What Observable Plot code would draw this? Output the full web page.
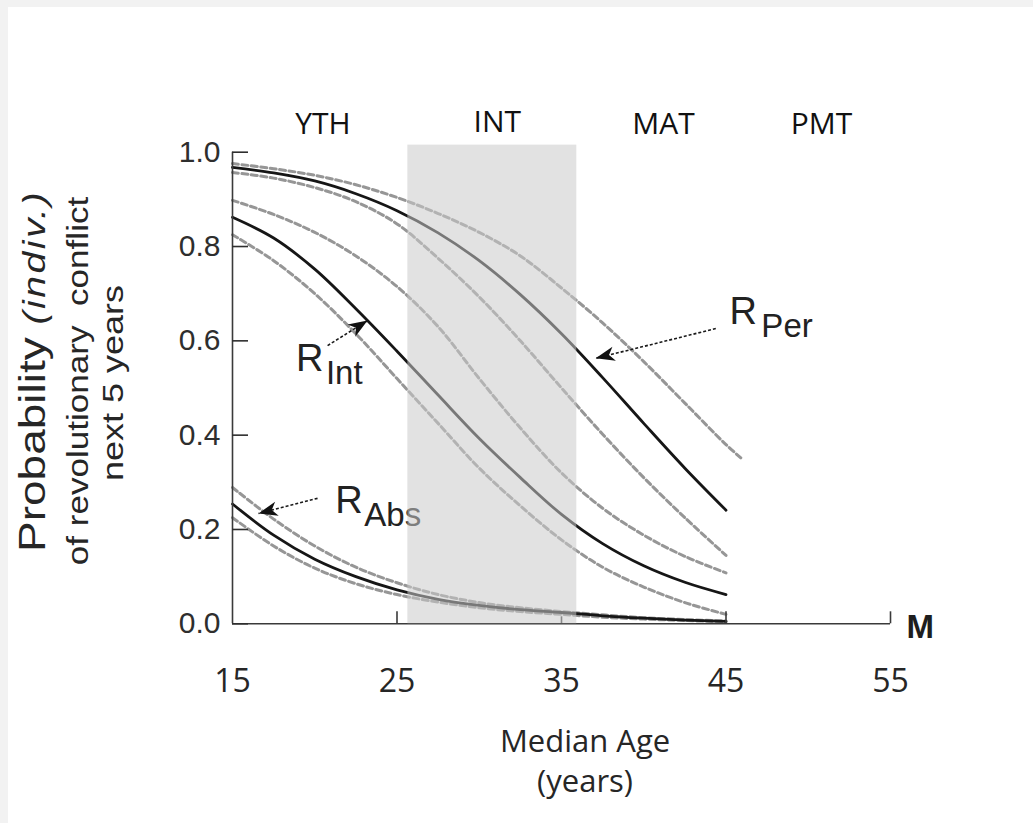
<!DOCTYPE html>
<html>
<head>
<meta charset="utf-8">
<script src="https://cdn.jsdelivr.net/npm/d3@7"></script>
<script src="https://cdn.jsdelivr.net/npm/@observablehq/plot@0.6"></script>
<style>
  html, body { margin: 0; padding: 0; background: #f2f2f2; }
  #panel { position: absolute; left: 8px; top: 7px; width: 1025px; height: 816px; background: #fff; }
  #panel svg { overflow: visible; }
</style>
</head>
<body>
<div id="panel"></div>
<script>
// Median age of the population (years)
const ages = [15, 17.5, 20, 22.5, 25, 27.5, 30, 32.5, 35, 37.5, 40, 42.5, 45];
const agesLong = [...ages, 45.9];

// Probability of revolutionary conflict in the next 5 years: central estimate and bounds
const perMid   = [0.968, 0.956, 0.939, 0.912, 0.876, 0.829, 0.770, 0.698, 0.615, 0.522, 0.425, 0.330, 0.241];
const perHigh  = [0.976, 0.965, 0.951, 0.931, 0.904, 0.870, 0.830, 0.780, 0.712, 0.638, 0.556, 0.468, 0.380, 0.352];
const perLow   = [0.957, 0.945, 0.925, 0.895, 0.848, 0.775, 0.693, 0.600, 0.500, 0.402, 0.310, 0.225, 0.145];

const intMid   = [0.862, 0.818, 0.752, 0.668, 0.578, 0.485, 0.393, 0.310, 0.232, 0.170, 0.123, 0.088, 0.062];
const intHigh  = [0.898, 0.868, 0.830, 0.780, 0.715, 0.630, 0.520, 0.415, 0.320, 0.245, 0.188, 0.143, 0.108];
const intLow   = [0.825, 0.770, 0.700, 0.615, 0.520, 0.425, 0.330, 0.250, 0.178, 0.120, 0.078, 0.045, 0.020];

const absMid   = [0.254, 0.188, 0.137, 0.100, 0.072, 0.052, 0.039, 0.030, 0.024, 0.017, 0.012, 0.008, 0.005];
const absHigh  = [0.289, 0.222, 0.165, 0.120, 0.087, 0.062, 0.045, 0.034, 0.026, 0.019, 0.013, 0.009, 0.006];
const absLow   = [0.225, 0.165, 0.118, 0.085, 0.062, 0.046, 0.034, 0.026, 0.020, 0.014, 0.010, 0.007, 0.004];

// Age-structure phases along the top
const phaseNames = ["YTH", "INT", "MAT", "PMT"];
const phaseAges  = [20.5, 31.1, 41.2, 50.8];
const phaseLevel = [1.039, 1.043, 1.039, 1.039];

// Shaded intermediate phase
const bandFrom = 25.66, bandTo = 35.93, bandTop = 1.015;

// Axis ticks
const xTicks = [15, 25, 35, 45, 55];
const yTicks = [0, 0.2, 0.4, 0.6, 0.8, 1.0];

// Curve labels: letter, subscript, and the pointer from label to curve
const labelNames  = ["Per", "Int", "Abs"];
const labelRAge   = [45.21, 18.86, 21.25];
const labelRP     = [0.636, 0.535, 0.236];
const labelSubAge = [47.15, 20.68, 23.01];
const labelSubP   = [0.609, 0.508, 0.208];
const pointerFromAge = [44.38, 20.78, 20.17];
const pointerFromP   = [0.626, 0.590, 0.266];
const pointerToAge   = [37.08, 23.21, 16.58];
const pointerToP     = [0.563, 0.643, 0.234];

// ---- build tables ----
function series(name, kind, values, xs = ages) {
  return values.map((p, i) => ({name, kind, age: xs[i], p}));
}
const curves = [
  ...series("Per", "mid", perMid), ...series("Per-hi", "bound", perHigh, agesLong), ...series("Per-lo", "bound", perLow),
  ...series("Int", "mid", intMid), ...series("Int-hi", "bound", intHigh), ...series("Int-lo", "bound", intLow),
  ...series("Abs", "mid", absMid), ...series("Abs-hi", "bound", absHigh), ...series("Abs-lo", "bound", absLow)
];
const phases = phaseNames.map((t, i) => ({t, age: phaseAges[i], p: phaseLevel[i]}));
const labels = labelNames.map((t, i) => ({
  t, rAge: labelRAge[i], rP: labelRP[i], sAge: labelSubAge[i], sP: labelSubP[i],
  x1: pointerFromAge[i], y1: pointerFromP[i], x2: pointerToAge[i], y2: pointerToP[i]
}));

// ---- layout ----
const W = 1025, H = 816;
const ML = 224, MR = 143, MT = 144.7, MB = 199.7;
const xDomain = [15, 55], yDomain = [0, 1];

// Standalone copies of the chart scales, to orient arrowheads in screen space
const sx = Plot.scale({x: {domain: xDomain, range: [ML, W - MR]}});
const sy = Plot.scale({y: {domain: yDomain, range: [H - MB, MT]}});
labels.forEach(d => {
  const dx = sx.apply(d.x2) - sx.apply(d.x1);
  const dy = sy.apply(d.y2) - sy.apply(d.y1);
  d.angle = Math.atan2(dx, -dy) * 180 / Math.PI;
});

// Notched, filled arrowhead for the pointers
const stealth = {
  draw(context, l) {
    context.moveTo(0, -l);
    context.lineTo(l * 0.38, 0);
    context.lineTo(0, -l * 0.28);
    context.lineTo(-l * 0.38, 0);
    context.closePath();
  }
};

const sans = "'Liberation Sans', Arial, Helvetica, sans-serif";
const open = "'Open Sans', 'Noto Sans', sans-serif";

const chart = Plot.plot({
  width: W,
  height: H,
  marginLeft: ML,
  marginRight: MR,
  marginTop: MT,
  marginBottom: MB,
  style: {background: "transparent", overflow: "visible"},
  x: {domain: xDomain, axis: null},
  y: {domain: yDomain, axis: null},
  marks: [
    // confidence bounds
    Plot.line(curves.filter(d => d.kind === "bound"), {
      x: "age", y: "p", z: "name", curve: "catmull-rom",
      stroke: "#969696", strokeWidth: 3, strokeDasharray: "6,3.5"
    }),
    // central estimates
    Plot.line(curves.filter(d => d.kind === "mid"), {
      x: "age", y: "p", z: "name", curve: "catmull-rom",
      stroke: "#161616", strokeWidth: 2.8
    }),
    // axis lines
    Plot.ruleX([15], {stroke: "#3a3a3a", strokeWidth: 1.6}),
    Plot.ruleY([0], {stroke: "#3a3a3a", strokeWidth: 1.6}),
    // y ticks (inward) and labels
    Plot.axisY(yTicks, {
      anchor: "left", tickSize: -16, tickPadding: 28, tickFormat: d3.format(".1f"),
      fontSize: 30, fontFamily: sans, color: "#2e2e2e", strokeWidth: 1.6, label: null
    }),
    // x tick labels
    Plot.axisX(xTicks, {
      anchor: "bottom", tickSize: 0, tickPadding: 45,
      fontSize: 32, fontFamily: open, color: "#262626", label: null
    }),
    // x ticks (upward)
    Plot.axisX([25, 45, 55], {
      anchor: "bottom", tickSize: -12, tickFormat: () => "", color: "#3a3a3a", strokeWidth: 1.6, label: null
    }),
    Plot.axisX([35], {
      anchor: "bottom", tickSize: -7, tickFormat: () => "", color: "#3a3a3a", strokeWidth: 1.6, label: null
    }),
    // axis end label
    Plot.text(["M"], {
      x: 55.98, y: -0.031, text: d => d, textAnchor: "start", lineAnchor: "bottom",
      fontSize: 33, fontWeight: "bold", fontFamily: sans, fill: "#1e1e1e"
    }),
    // x-axis title
    Plot.text(["Median Age"], {
      x: 36.43, y: -0.271, text: d => d, lineAnchor: "bottom",
      fontSize: 31, fontFamily: open, fill: "#262626"
    }),
    Plot.text(["(years)"], {
      x: 36.43, y: -0.356, text: d => d, lineAnchor: "bottom",
      fontSize: 31, fontFamily: open, fill: "#262626"
    }),
    // phase names
    Plot.text(phases, {
      x: "age", y: "p", text: "t", lineAnchor: "bottom",
      fontSize: 30, fontFamily: open, fill: "#111"
    }),
    // curve labels
    Plot.text(labels, {
      x: "rAge", y: "rP", text: () => "R", textAnchor: "start", lineAnchor: "bottom",
      fontSize: 38, fontFamily: sans, fill: "#222"
    }),
    Plot.text(labels, {
      x: "sAge", y: "sP", text: "t", textAnchor: "start", lineAnchor: "bottom",
      fontSize: 33, fontFamily: sans, fill: "#222"
    }),
    // pointers
    Plot.link(labels, {
      x1: "x1", y1: "y1", x2: "x2", y2: "y2",
      stroke: "#1a1a1a", strokeWidth: 1.6, strokeDasharray: "3,2"
    }),
    Plot.vector(labels, {
      x: "x2", y: "y2", rotate: "angle", length: 19, anchor: "end",
      shape: stealth, fill: "#111", stroke: "none"
    }),
    // intermediate-phase shading laid over the curves
    Plot.rect([{a: bandFrom, b: bandTo, top: bandTop}], {
      x1: "a", x2: "b", y1: 0, y2: "top",
      fill: "#cbcbcb", fillOpacity: 0.55
    })
  ]
});

document.getElementById("panel").appendChild(chart);

// Rotated y-axis title (mixed roman / italic runs, drawn a little elongated)
const svg = d3.select(chart);
const ttl = svg.append("g").attr("font-family", sans).attr("fill", "#262626").attr("text-anchor", "middle");
const t1 = ttl.append("text")
  .attr("transform", "translate(37,364) rotate(-90) scale(1.26,1)")
  .attr("font-size", 36.5);
t1.append("tspan").text("Probability ");
t1.append("tspan").attr("font-style", "italic").attr("font-size", 31).attr("letter-spacing", 2).text("(indiv.)");
ttl.append("text")
  .attr("transform", "translate(80,374) rotate(-90) scale(1.21,1)")
  .attr("font-size", 29)
  .text("of revolutionary\u00a0\u00a0conflict");
ttl.append("text")
  .attr("transform", "translate(115,376) rotate(-90) scale(1.24,1)")
  .attr("font-size", 29)
  .text("next 5 years");
</script>
</body>
</html>
